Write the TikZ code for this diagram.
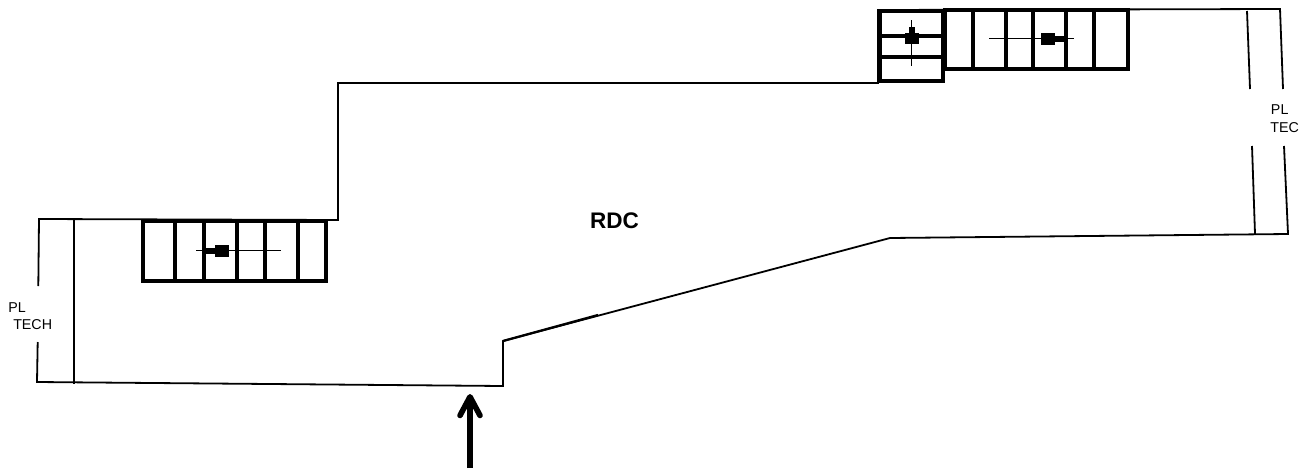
\documentclass[tikz,border=0pt]{standalone}
\usepackage{fontspec}
\setmainfont{Liberation Sans}
\usetikzlibrary{arrows.meta}
\begin{document}
\begin{tikzpicture}[x=0.75pt,y=-0.75pt, wal/.style={line width=1.35pt},
		marche/.style={line width=3pt}, axe/.style={line width=1.05pt},
		lab/.style={inner sep=0pt,font=\fontsize{10.7pt}{12pt}\selectfont,anchor=west}]
	\useasboundingbox (0,0) rectangle (1312,468);
	% outline
	\draw[wal] (38.3,286) -- (39,219) -- (338,220) -- (338,83) -- (878,83) -- (878,10) -- (1280,9) -- (1283,89);
	\draw[wal] (1284,146) -- (1288,234) -- (890,238) -- (503,341) -- (503,386) -- (37,382) -- (37.7,342);
	\draw[wal] (74,220) -- (74,384);
	\draw[wal] (1247,11) -- (1250,89);
	\draw[wal] (1252,146) -- (1255,234);
	\draw[line width=1.7pt] (503,341) -- (598,315);
	% stairs left
	\draw[marche] (142.5,220.7) rectangle (326,281);
	\foreach \x in {175,203.5,236.7,265,297.7}
		\draw[marche] (\x,220.7) -- (\x,281);
	\draw[axe] (196,250.7) -- (281,250.7);
	\fill (215,244.7) rectangle (229,256.7);
	\fill (206,247.5) rectangle (215,254);
	% stairs top
	\draw[marche] (945,9.5) rectangle (1128,69);
	\foreach \x in {972.7,1005.7,1033.3,1066,1094.3}
		\draw[marche] (\x,9.5) -- (\x,69);
	\draw[axe] (989,38.7) -- (1074,38.7);
	\fill (1041,33) rectangle (1055,44.5);
	\fill (1055,35.5) rectangle (1064,42);
	% stairs corner
	\draw[marche] (879.5,11) rectangle (943.3,81);
	\foreach \y in {35.7,56.7}
		\draw[marche] (879.5,\y) -- (943.3,\y);
	\draw[axe] (911.7,20) -- (911.7,65.7);
	\fill (905,33) rectangle (919,44.3);
	\fill (908.5,27) rectangle (915,33);
	% entrance
	\coordinate (pied) at (470,468);
	\coordinate (tete) at (470,394);
	\draw[line width=4.2pt,-{Straight Barb[length=14pt,width=15pt,round,line width=4.2pt]}] (pied) -- (tete);
	% labels
	\node[lab] (pl1) at (8,308) {PL};
	\node[lab] (tech) at (13,325) {TECH};
	\node[lab] (pl2) at (1270.7,110) {PL};
	\node[lab] (tec) at (1270,128) {TEC};
	\node[inner sep=0pt,font=\fontsize{16.9pt}{18pt}\selectfont\bfseries] (rdc) at (614.5,221) {RDC};
\end{tikzpicture}
\end{document}
